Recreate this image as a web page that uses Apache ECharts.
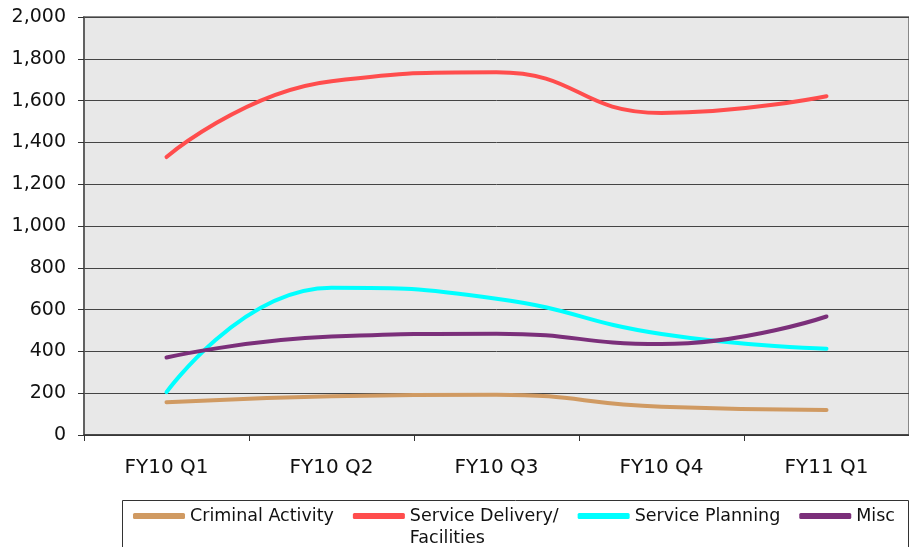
<!DOCTYPE html>
<html>
<head>
<meta charset="utf-8">
<script src="https://cdn.jsdelivr.net/npm/echarts@6/dist/echarts.min.js"></script>
<style>
  html, body { margin: 0; padding: 0; background: #fff; }
  #chart { width: 909px; height: 547px; }
</style>
</head>
<body>
<div id="chart"></div>
<script>
// Quarterly counts by category
const quarters = ['FY10 Q1', 'FY10 Q2', 'FY10 Q3', 'FY10 Q4', 'FY11 Q1'];
const criminalActivity = [157, 186, 193, 135, 120];
const serviceDelivery = [1330, 1693, 1736, 1541, 1621];
const servicePlanning = [205, 705, 652, 483, 413];
const misc = [371, 471, 485, 435, 567];
const seriesNames = ['Criminal Activity', 'Service Delivery/\nFacilities', 'Service Planning', 'Misc'];
const yTicks = { min: 0, max: 2000, interval: 200 };

const colors = ['#d09a62', '#ff4d4d', '#00ffff', '#7b2f7a'];
const values = [criminalActivity, serviceDelivery, servicePlanning, misc];
const font = '"DejaVu Sans", "Liberation Sans", sans-serif';

const chart = echarts.init(document.getElementById('chart'), null, { renderer: 'canvas' });
chart.setOption({
  animation: false,
  color: colors,
  grid: {
    left: 84, right: -2, top: 17, bottom: 112,
    show: true, backgroundColor: '#e8e8e8', borderColor: '#888', borderWidth: 2
  },
  xAxis: {
    type: 'category',
    data: quarters,
    boundaryGap: true,
    axisLine: { lineStyle: { color: '#333', width: 1.5 } },
    axisTick: { show: true, length: 6, lineStyle: { color: '#333' } },
    axisLabel: { color: '#111', fontFamily: font, fontSize: 20, margin: 23 },
    splitLine: { show: false }
  },
  yAxis: {
    type: 'value',
    min: yTicks.min, max: yTicks.max, interval: yTicks.interval,
    axisLine: { show: true, lineStyle: { color: '#555', width: 1.5 } },
    axisTick: { show: true, length: 6, lineStyle: { color: '#333' } },
    axisLabel: {
      color: '#111', fontFamily: font, fontSize: 19, margin: 18,
      formatter: v => v.toLocaleString('en-US')
    },
    splitLine: { lineStyle: { color: '#444', width: 1 } }
  },
  // legend frame
  graphic: [{
    type: 'rect',
    shape: { x: 122.5, y: 500.5, width: 786, height: 50 },
    style: { fill: null, stroke: '#333', lineWidth: 1 },
    silent: true
  }],
  legend: {
    left: 133, top: 483, width: 776,
    padding: 0,
    itemWidth: 52, itemHeight: 6, itemGap: 19,
    icon: 'roundRect',
    textStyle: { fontFamily: font, fontSize: 17.5, color: '#111', lineHeight: 22 },
    // two-line names hang below the marker: an empty first line keeps the
    // second line level with the other entries
    formatter: name => name.includes('\n') ? '\n' + name : name,
    data: seriesNames
  },
  series: seriesNames.map((name, i) => ({
    name,
    type: 'line',
    data: values[i],
    smooth: 0.5,
    symbol: 'none',
    lineStyle: { width: 4, color: colors[i], cap: 'round' },
    itemStyle: { color: colors[i] }
  }))
});
</script>
</body>
</html>
